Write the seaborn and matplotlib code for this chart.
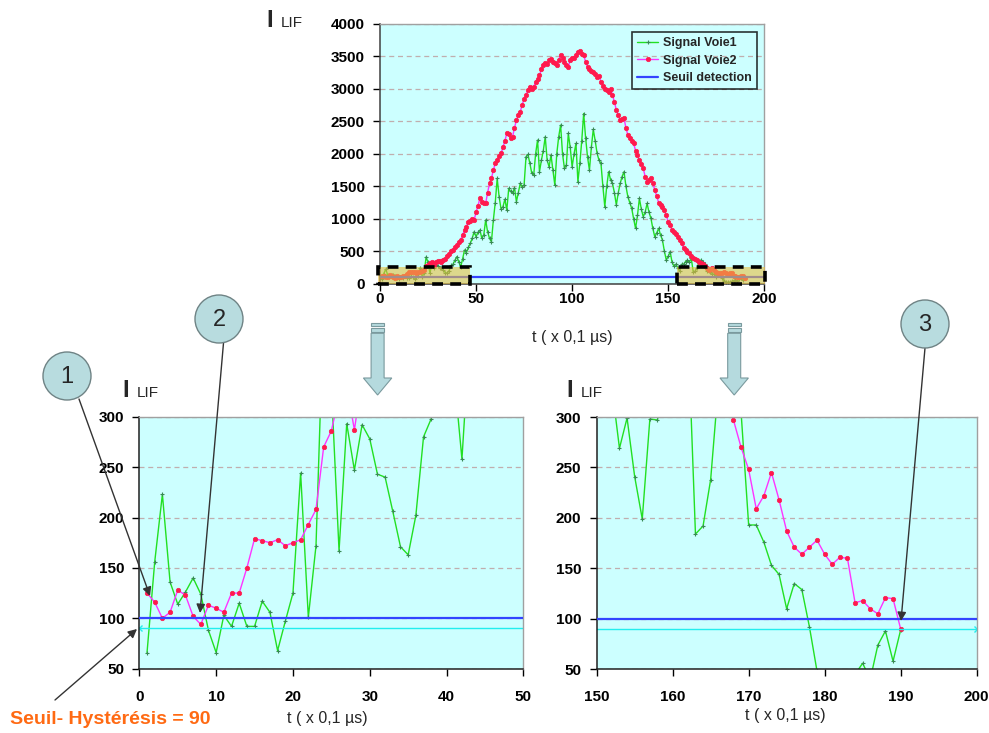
import numpy as np
import matplotlib
matplotlib.use("Agg")
import matplotlib.pyplot as plt
import seaborn as sns
from matplotlib.patches import Rectangle, Circle, Polygon, FancyArrowPatch

sns.set_style("white")
plt.rcParams["font.family"] = ["Liberation Sans", "DejaVu Sans"]
plt.rcParams["font.weight"] = "bold"

# time index (x 0,1 us)
t = np.arange(1, 191)

# Signal Voie1 (green)
voie1 = [66, 156, 223, 136, 114, 126, 140, 124, 88, 66,
         103, 92, 115, 92, 92, 117, 106, 68, 97, 125,
         244, 101, 172, 410, 330, 167, 293, 247, 292, 278,
         243, 240, 206, 171, 163, 202, 280, 298, 360, 415,
         340, 258, 380, 518, 480, 560, 620, 700, 800, 723,
         790, 826, 700, 749, 980, 800, 698, 646, 980, 1250,
         1621, 1339, 1150, 1185, 1300, 1134, 1467, 1420, 1390, 1480,
         1262, 1400, 1544, 1493, 1520, 1955, 1990, 1852, 1700, 1672,
         2000, 2211, 1724, 1900, 2050, 2262, 1900, 1800, 1980, 1750,
         1518, 2000, 2262, 2442, 2000, 1775, 1826, 2314, 2100, 1800,
         2000, 2160, 1570, 1852, 2200, 2621, 2250, 1955, 1750, 2100,
         2375, 2200, 2006, 1900, 1852, 1500, 1185, 1500, 1724, 1600,
         1544, 1400, 1211, 1400, 1544, 1650, 1724, 1500, 1339, 1250,
         1159, 1000, 852, 1050, 1313, 1150, 1031, 1100, 1236, 1100,
         1006, 850, 723, 780, 852, 750, 672, 500, 364, 420,
         493, 330, 269, 299, 241, 199, 298, 297, 340, 364,
         330, 390, 184, 192, 238, 330, 364, 330, 305, 193,
         193, 176, 153, 144, 110, 135, 129, 92, 48, 30,
         20, 25, 35, 45, 56, 40, 74, 88, 58, 89]

# Signal Voie2 (red / magenta)
voie2 = [125, 116, 100, 106, 128, 123, 102, 94, 113, 110,
         106, 125, 125, 150, 179, 177, 175, 178, 172, 175,
         178, 193, 208, 270, 286, 320, 330, 287, 339, 345,
         350, 340, 364, 380, 420, 460, 500, 518, 560, 600,
         640, 672, 750, 820, 880, 954, 960, 990, 980, 1100,
         1200, 1313, 1260, 1250, 1236, 1400, 1544, 1620, 1750, 1852,
         1900, 1960, 2006, 2100, 2200, 2314, 2300, 2240, 2262, 2400,
         2519, 2596, 2650, 2750, 2852, 2900, 2980, 3032, 3000, 3032,
         3100, 3150, 3211, 3300, 3365, 3400, 3380, 3440, 3468, 3420,
         3400, 3365, 3450, 3519, 3480, 3420, 3365, 3340, 3442, 3480,
         3470, 3520, 3570, 3590, 3540, 3519, 3420, 3340, 3300, 3280,
         3260, 3237, 3180, 3200, 3109, 3050, 3000, 2980, 2950, 3006,
         2900, 2800, 2673, 2600, 2519, 2530, 2545, 2400, 2288, 2250,
         2200, 2160, 2050, 1980, 1900, 1850, 1775, 1650, 1570, 1600,
         1621, 1550, 1441, 1350, 1250, 1211, 1180, 1134, 1050, 954,
         900, 826, 790, 760, 723, 680, 620, 544, 520, 490,
         467, 430, 400, 380, 364, 340, 318, 297, 270, 248,
         209, 222, 245, 218, 187, 171, 164, 171, 178, 164,
         154, 161, 160, 116, 118, 110, 105, 121, 120, 90]

seuil = 100
hysteresis = 90

BG = "#ccffff"
GREEN = "#22e022"
MAGENTA = "#ff33ff"
RED = "#ff1a4d"
BLUE = "#3344ff"
CYAN = "#22eeee"
GRID = "#c0aeae"


def draw_signals(ax, with_labels=False):
    sns.lineplot(x=t, y=voie1, color=GREEN, lw=1, marker="+", markersize=3,
                 mec="#3a8a55", mew=0.8, ax=ax,
                 label="Signal Voie1" if with_labels else None)
    sns.lineplot(x=t, y=voie2, color=MAGENTA, lw=1, marker="o", markersize=3.2,
                 mfc=RED, mec=RED, mew=0.5, ax=ax,
                 label="Signal Voie2" if with_labels else None)
    ax.axhline(seuil, color=BLUE, lw=1.6, zorder=3,
               label="Seuil detection" if with_labels else None)


def style_axes(ax, xlim, ylim, xstep, ystep, dark="#202020"):
    ax.set_facecolor(BG)
    ax.set_xlim(*xlim)
    ax.set_ylim(*ylim)
    ax.set_xticks(np.arange(xlim[0], xlim[1] + 1, xstep))
    ax.set_yticks(np.arange(ylim[0], ylim[1] + 1, ystep))
    ax.yaxis.grid(True, linestyle=(0, (4, 3)), color=GRID, lw=0.9)
    ax.xaxis.grid(False)
    ax.set_axisbelow(True)
    for s in ["left", "bottom"]:
        ax.spines[s].set_color(dark)
        ax.spines[s].set_linewidth(1.1)
    for s in ["top", "right"]:
        ax.spines[s].set_color("#a0a0a0")
        ax.spines[s].set_linewidth(1)
    ax.set_ylabel("")
    ax.tick_params(axis="both", direction="out", length=5, width=1,
                   colors="black", labelsize=11, bottom=True, left=True)


fig = plt.figure(figsize=(9.89, 7.33), dpi=100)

# --- top chart: full signal ---
ax_top = fig.add_axes([0.3842, 0.6130, 0.3886, 0.3543])
draw_signals(ax_top, with_labels=True)
style_axes(ax_top, (0, 200), (0, 4000), 50, 500, dark="#404040")
ax_top.tick_params(axis="x", pad=1)
ax_top.tick_params(axis="y", pad=6)
for x0, x1 in [(-1, 46.8), (154.6, 200.4)]:
    ax_top.add_patch(Rectangle((x0, 0), x1 - x0, 262, facecolor="#eabe3f",
                               alpha=0.6, edgecolor="none", zorder=4, clip_on=False))
    ax_top.add_patch(Rectangle((x0, 0), x1 - x0, 262, fill=False, edgecolor="black",
                               lw=2.6, linestyle=(0, (3, 2)), zorder=5, clip_on=False))
leg = ax_top.legend(loc="upper right", bbox_to_anchor=(0.981, 0.969), borderaxespad=0,
                    frameon=True, fancybox=False, facecolor="none", edgecolor="black",
                    prop={"size": 9, "weight": "bold"}, handlelength=1.7,
                    handletextpad=0.4, labelspacing=0.45, borderpad=0.4)
leg.get_frame().set_linewidth(1.2)
leg.set_zorder(6)
ax_top.set_xlabel("t ( x 0,1 µs)", fontsize=11.5, fontweight="normal")
ax_top.xaxis.set_label_coords(0.5, -0.209)
ax_top.xaxis.label.set_va("center")

# --- bottom left: start of signal ---
ax_bl = fig.add_axes([0.1409, 0.0877, 0.3883, 0.3438])
draw_signals(ax_bl)
style_axes(ax_bl, (0, 50), (50, 300), 10, 50)
sns.lineplot(x=[0, 200], y=[hysteresis, hysteresis], color=CYAN, lw=1,
             marker="x", markersize=5, mec=CYAN, mew=1, ax=ax_bl)
ax_bl.tick_params(axis="x", pad=10)
ax_bl.tick_params(axis="y", pad=6)
ax_bl.set_xlabel("t ( x 0,1 µs)", fontsize=11.5, fontweight="normal")
ax_bl.xaxis.set_label_coords(0.489, -0.196)
ax_bl.xaxis.label.set_va("center")

# --- bottom right: end of signal ---
ax_br = fig.add_axes([0.6033, 0.0869, 0.3842, 0.3442])
draw_signals(ax_br)
style_axes(ax_br, (150, 200), (50, 300), 10, 50)
sns.lineplot(x=[0, 200], y=[hysteresis, hysteresis], color=CYAN, lw=1,
             marker="x", markersize=5, mec=CYAN, mew=1, ax=ax_br)
ax_br.tick_params(axis="x", pad=10)
ax_br.tick_params(axis="y", pad=6)
ax_br.set_xlabel("t ( x 0,1 µs)", fontsize=11.5, fontweight="normal")
ax_br.xaxis.set_label_coords(0.4955, -0.185)
ax_br.xaxis.label.set_va("center")

for ax in (ax_bl, ax_br):
    if ax.get_legend() is not None:
        ax.get_legend().remove()

# --- overlay for annotations (pixel coordinates) ---
ov = fig.add_axes([0, 0, 1, 1])
ov.set_xlim(0, 989)
ov.set_ylim(733, 0)
ov.axis("off")
ov.set_zorder(10)

# I LIF labels
for xi, yb in [(266, 27), (122, 397), (566, 397)]:
    ov.text(xi, yb, "I", fontsize=17, fontweight="bold", va="baseline", ha="left")
    ov.text(xi + 15, yb, "LIF", fontsize=11, fontweight="normal", va="baseline", ha="left")

# big down arrows
for cx in (377.6, 734.2):
    for y0, h in [(323.3, 2.7), (327.7, 4.0)]:
        ov.add_patch(Rectangle((cx - 6.5, y0), 13, h, facecolor="#b5dade",
                               edgecolor="#7a9a9e", lw=0.8))
    ov.add_patch(Polygon([(cx - 6.5, 333.3), (cx + 6.5, 333.3), (cx + 6.5, 378),
                          (cx + 14.2, 378), (cx, 395), (cx - 14.2, 378), (cx - 6.5, 378)],
                         closed=True, facecolor="#b5dade", edgecolor="#7a9a9e", lw=0.8))

# numbered callouts
callouts = [("1", (67, 376), (79, 399), (150, 596)),
            ("2", (219, 319), (223.5, 343), (200, 613)),
            ("3", (925, 324), (925, 348), (901, 621))]
for num, c, start, end in callouts:
    ov.add_patch(FancyArrowPatch(start, end, arrowstyle="-|>", mutation_scale=13,
                                 color="#333333", lw=1, shrinkA=0, shrinkB=0))
    ov.add_patch(Circle(c, 24, facecolor="#b8dcdf", edgecolor="#6f8385", lw=1))
    ov.text(c[0], c[1] + 1, num, fontsize=17, fontweight="normal",
            ha="center", va="center")

# hysteresis threshold note
ov.add_patch(FancyArrowPatch((55, 700), (137, 629), arrowstyle="-|>", mutation_scale=13,
                             color="#333333", lw=1, shrinkA=0, shrinkB=0))
ov.text(10, 720, "Seuil- Hystérésis = 90", fontsize=14, fontweight="bold",
        color="#ff6a13", ha="left", va="center")

fig.savefig("out.png", dpi=100)
